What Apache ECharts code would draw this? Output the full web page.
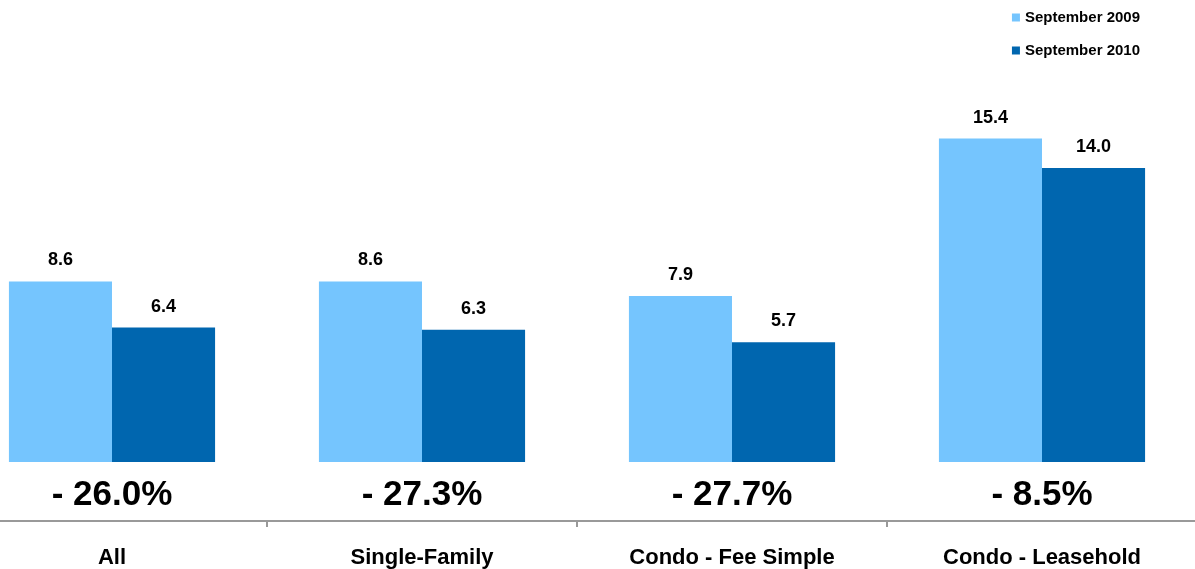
<!DOCTYPE html>
<html>
<head>
<meta charset="utf-8">
<script src="https://cdn.jsdelivr.net/npm/echarts@6/dist/echarts.min.js"></script>
<style>
html,body{margin:0;padding:0;background:#fff;overflow:hidden;}
#wrap{position:relative;width:1195px;height:569px;overflow:hidden;}
#chart{position:absolute;left:-43px;top:0;width:1240px;height:569px;}
</style>
</head>
<body>
<div id="wrap"><div id="chart"></div></div>
<script>
const categories = ['All', 'Single-Family', 'Condo - Fee Simple', 'Condo - Leasehold'];
const seriesNames = ['September 2009', 'September 2010'];
const sep2009 = [8.6, 8.6, 7.9, 15.4];
const sep2010 = [6.4, 6.3, 5.7, 14.0];
const changeLabels = ['- 26.0%', '- 27.3%', '- 27.7%', '- 8.5%'];

const FONT = '"Liberation Sans", Arial, Helvetica, sans-serif';
const chart = echarts.init(document.getElementById('chart'));
const labelCfg = {
  show: true, position: 'top', distance: 12,
  fontFamily: FONT, fontWeight: 'bold', fontSize: 18, color: '#000',
  formatter: p => p.value.toFixed(1)
};
chart.setOption({
  animation: false,
  textStyle: { fontFamily: FONT },
  legend: {
    orient: 'vertical', right: 52, top: 5, itemGap: 18,
    itemWidth: 8, itemHeight: 8, icon: 'rect',
    textStyle: { fontFamily: FONT, fontWeight: 'bold', fontSize: 15, color: '#000' },
    data: seriesNames
  },
  grid: { left: 0, right: 0, top: 84, bottom: 106, containLabel: false },
  xAxis: [
    {
      type: 'category', data: categories, position: 'bottom', offset: 59,
      axisLine: { show: true, onZero: false, lineStyle: { color: '#999999', width: 2 } },
      axisTick: { show: true, length: 6, lineStyle: { color: '#999999', width: 2 } },
      axisLabel: { margin: 26, fontFamily: FONT, fontWeight: 'bold', fontSize: 22, color: '#000', interval: 0 }
    },
    {
      type: 'category', data: changeLabels, position: 'bottom', offset: 0,
      axisLine: { show: false, onZero: false }, axisTick: { show: false },
      axisLabel: { margin: 16, fontFamily: FONT, fontWeight: 'bold', fontSize: 35, color: '#000', interval: 0 }
    }
  ],
  yAxis: { type: 'value', min: 0, max: 18, show: false, splitLine: { show: false } },
  series: [
    { name: seriesNames[0], type: 'bar', data: sep2009, xAxisIndex: 0, barCategoryGap: '33.5%', barGap: '0%',
      itemStyle: { color: '#75C5FE' }, label: labelCfg },
    { name: seriesNames[1], type: 'bar', data: sep2010, xAxisIndex: 0, barCategoryGap: '33.5%', barGap: '0%',
      itemStyle: { color: '#0066AF' }, label: labelCfg }
  ]
});
</script>
</body>
</html>
